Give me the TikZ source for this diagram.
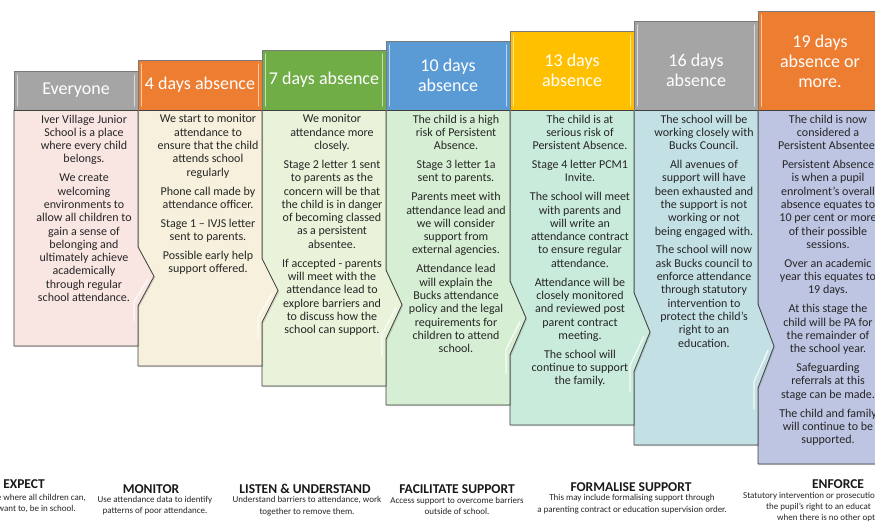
\documentclass[tikz,border=0pt]{standalone}
\usepackage{fontspec}
\setmainfont{Carlito}
\usetikzlibrary{shadows}

\definecolor{edge}{HTML}{3F3F3F}
\definecolor{greyhead}{HTML}{A5A5A5}
\definecolor{orangehead}{HTML}{ED7D31}
\definecolor{greenhead}{HTML}{70AD47}
\definecolor{bluehead}{HTML}{5B9BD5}
\definecolor{goldhead}{HTML}{FFC000}
\definecolor{pinkbody}{HTML}{F9E6E3}
\definecolor{creambody}{HTML}{F6F0DC}
\definecolor{limebody}{HTML}{E8F3D9}
\definecolor{greenbody}{HTML}{D6EFD4}
\definecolor{mintbody}{HTML}{C9EBDB}
\definecolor{bluebody}{HTML}{C3E0E5}
\definecolor{lavbody}{HTML}{BEC5E3}

\begin{document}
\begin{tikzpicture}[x=1pt, y=-1pt,
    shadowed/.style={drop shadow={opacity=0.3, shadow xshift=1.2pt, shadow yshift=-1.2pt}},
    gloss/.style={white, opacity=0.8, line width=1.3pt, line cap=round},
    headtext/.style={align=center, text=white, inner sep=0pt,
        font=\fontsize{18}{20}\selectfont},
    bodytext/.style={align=center, anchor=north, inner sep=0pt, text=black!85,
        font=\fontsize{12}{13.3}\selectfont},
    tagtitle/.style={inner sep=0pt, text=black!90,
        font=\bfseries\fontsize{13.5}{14}\selectfont},
    tagtext/.style={align=center, inner sep=0pt, text=black!85,
        font=\fontsize{9}{11.5}\selectfont}]

\useasboundingbox (0,0) rectangle (875,521);
\clip (0,0) rectangle (875,521);
\fill[white] (0,0) rectangle (875,521);

\newcommand{\gap}{\\[5.6pt]}

% columns, right to left so every chevron lies on the next column
\foreach \i/\ytop/\ybot/\hc/\bc in {
    6/11/464/orangehead/lavbody,
    5/21/445/greyhead/bluebody,
    4/31/425/goldhead/mintbody,
    3/41/405/bluehead/greenbody,
    2/50/386/greenhead/limebody,
    1/60/366/orangehead/creambody,
    0/71/346/greyhead/pinkbody}{
    \pgfmathsetmacro\xl{14+124*\i}
    \pgfmathsetmacro\xr{\xl+124}
    \pgfmathsetmacro\tip{110+0.705*(\ybot-110)}
    \pgfmathsetmacro\half{0.125*(\ybot-110)}
    % body
    \filldraw[fill=\bc, draw=edge, line width=0.8pt, shadowed]
        (\xl,110) -- (\xr,110) -- (\xr,\tip-\half) -- (\xr+16,\tip)
        -- (\xr,\tip+\half) -- (\xr,\ybot) -- (\xl,\ybot) -- cycle;
    \draw[gloss] (\xr+10,\tip+0.1*\half) -- (\xr-4,\tip+0.85*\half)
        -- (\xr-4,\tip+1.5*\half);
    % header
    \filldraw[fill=\hc, draw=edge!70, line width=0.6pt, shadowed]
        (\xl,\ytop) rectangle (\xr,110);
    \draw[gloss, opacity=0.6] (\xl+3.5,\ytop+4) -- (\xl+3.5,106);
    \draw[gloss, opacity=0.6] (\xr-3.5,\ytop+4) -- (\xr-3.5,106);
    \draw[edge, line width=0.8pt] (\xl,110) -- (\xr,110);
}

% headers
\node[headtext] (everyone) at (76,90) {Everyone};
\node[headtext] (four) at (200,85) {4 days absence};
\node[headtext] (seven) at (324,80) {7 days absence};
\node[headtext] (ten) at (448,75.5) {10 days\\absence};
\node[headtext] (thirteen) at (572,70) {13 days\\absence};
\node[headtext] (sixteen) at (696,70) {16 days\\absence};
\node[headtext] (nineteen) at (820,61) {19 days\\absence or\\more.};

% column texts
\node[bodytext] (everyonetext) at (84,114.5) {Iver Village Junior\\School is a place\\where every child\\belongs.\gap
    We create\\welcoming\\environments to\\allow all children to\\gain a sense of\\belonging and\\ultimately achieve\\academically\\through regular\\school attendance.};
\node[bodytext] (fourtext) at (208,114.5) {We start to monitor\\attendance to\\ensure that the child\\attends school\\regularly\gap
    Phone call made by\\attendance officer.\gap
    Stage 1 – IVJS letter\\sent to parents.\gap
    Possible early help\\support offered.};
\node[bodytext] (seventext) at (332,114.5) {We monitor\\attendance more\\closely.\gap
    Stage 2 letter 1 sent\\to parents as the\\concern will be that\\the child is in danger\\of becoming classed\\as a persistent\\absentee.\gap
    If accepted - parents\\will meet with the\\attendance lead to\\explore barriers and\\to discuss how the\\school can support.};
\node[bodytext] (tentext) at (456,114.5) {The child is a high\\risk of Persistent\\Absence.\gap
    Stage 3 letter 1a\\sent to parents.\gap
    Parents meet with\\attendance lead and\\we will consider\\support from\\external agencies.\gap
    Attendance lead\\will explain the\\Bucks attendance\\policy and the legal\\requirements for\\children to attend\\school.};
\node[bodytext] (thirteentext) at (580,114.5) {The child is at\\serious risk of\\Persistent Absence.\gap
    Stage 4 letter PCM1\\Invite.\gap
    The school will meet\\with parents and\\will write an\\attendance contract\\to ensure regular\\attendance.\gap
    Attendance will be\\closely monitored\\and reviewed post\\parent contract\\meeting.\gap
    The school will\\continue to support\\the family.};
\node[bodytext] (sixteentext) at (704,114.5) {The school will be\\working closely with\\Bucks Council.\gap
    All avenues of\\support will have\\been exhausted and\\the support is not\\working or not\\being engaged with.\gap
    The school will now\\ask Bucks council to\\enforce attendance\\through statutory\\intervention to\\protect the child’s\\right to an\\education.};
\node[bodytext] (nineteentext) at (828,114.5) {The child is now\\considered a\\Persistent Absentee.\gap
    Persistent Absence\\is when a pupil\\enrolment’s overall\\absence equates to\\10 per cent or more\\of their possible\\sessions.\gap
    Over an academic\\year this equates to\\19 days.\gap
    At this stage the\\child will be PA for\\the remainder of\\the school year.\gap
    Safeguarding\\referrals at this\\stage can be made.\gap
    The child and family\\will continue to be\\supported.};

% stages along the bottom
\node[tagtitle] (expect) at (24,484) {EXPECT};
\node[tagtext, anchor=east] (expecta) at (86,498) {e where all children can,};
\node[tagtext, anchor=east] (expectb) at (76,509) {want to, be in school.};

\node[tagtitle] (monitor) at (151,489) {MONITOR};
\node[tagtext] (monitortext) at (155,505.5) {Use attendance data to identify\\patterns of poor attendance.};

\node[tagtitle] (listen) at (305,489) {LISTEN \& UNDERSTAND};
\node[tagtext] (listentext) at (307,506) {Understand barriers to attendance, work\\together to remove them.};

\node[tagtitle] (facilitate) at (457,489) {FACILITATE SUPPORT};
\node[tagtext] (facilitatetext) at (457,506) {Access support to overcome barriers\\outside of school.};

\node[tagtitle] (formalise) at (631,487) {FORMALISE SUPPORT};
\node[tagtext] (formalisetext) at (632,504) {This may include formalising support through\\a parenting contract or education supervision order.};

\node[tagtitle] (enforce) at (838,484) {ENFORCE};
\node[tagtext, anchor=west] (enforcea) at (743,496) {Statutory intervention or prosecutio};
\node[tagtext, anchor=west] (enforceb) at (766,507) {the pupil’s right to an educat};
\node[tagtext, anchor=west] (enforcec) at (777,518) {when there is no other opt};

\end{tikzpicture}
\end{document}
